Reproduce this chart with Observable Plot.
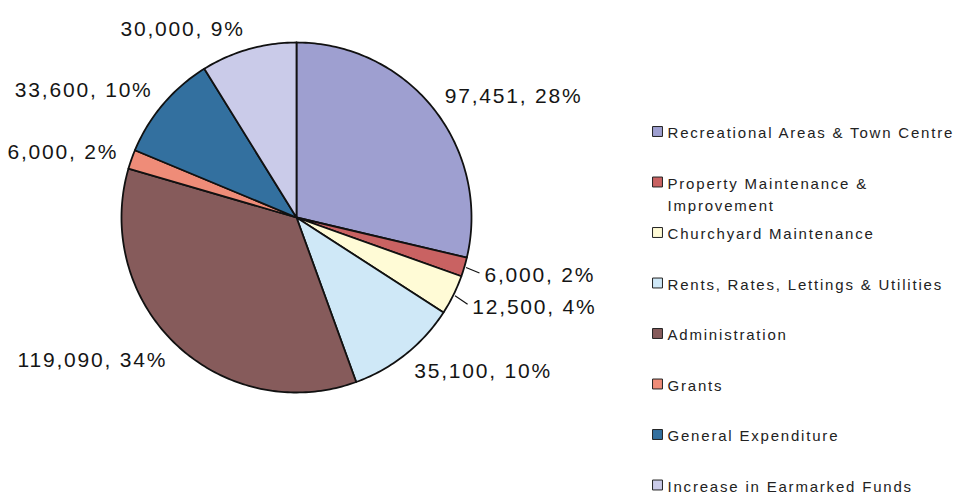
<!DOCTYPE html>
<html><head><meta charset="utf-8">
<script src="https://cdn.jsdelivr.net/npm/d3@7"></script>
<script src="https://cdn.jsdelivr.net/npm/@observablehq/plot@0.6"></script>
<style>
body{margin:0;background:#fff;}
#chart svg{display:block;}
</style>
</head><body><div id="chart"></div>
<script>
// ---- data ----
const categories = [
  "Recreational Areas & Town Centre",
  "Property Maintenance & Improvement",
  "Churchyard Maintenance",
  "Rents, Rates, Lettings & Utilities",
  "Administration",
  "Grants",
  "General Expenditure",
  "Increase in Earmarked Funds"
];
const legendLabels = [
  "Recreational Areas & Town Centre",
  "Property Maintenance &\nImprovement",
  "Churchyard Maintenance",
  "Rents, Rates, Lettings & Utilities",
  "Administration",
  "Grants",
  "General Expenditure",
  "Increase in Earmarked Funds"
];
const values = [97451, 6000, 12500, 35100, 119090, 6000, 33600, 30000];
const valueLabels = ["97,451", "6,000", "12,500", "35,100", "119,090", "6,000", "33,600", "30,000"];
const percentLabels = ["28%", "2%", "4%", "10%", "34%", "2%", "10%", "9%"];
const colors = ["#9e9fd0", "#c96262", "#fffbd6", "#cfe8f7", "#865b5b", "#ef8c78", "#33709f", "#cacbe9"];

// ---- layout ----
const W = 976, H = 496, cx = 296, cy = 217, R = 175;
const ux = px => (px - cx) / R;       // pixel -> unit (x)
const uy = py => (cy - py) / R;       // pixel -> unit (y, up)

const total = d3.sum(values);
let acc = 0;
const slices = categories.map((c, i) => {
  const a0 = acc / total * 2 * Math.PI;
  acc += values[i];
  const a1 = acc / total * 2 * Math.PI;
  return {cat: c, a0, a1, mid: (a0 + a1) / 2, share: values[i] / total, i};
});

// arc polygons
const arcPts = [];
for (const s of slices) {
  arcPts.push({cat: s.cat, x: 0, y: 0});
  const n = Math.max(2, Math.ceil((s.a1 - s.a0) / (Math.PI / 180)));
  for (let k = 0; k <= n; k++) {
    const a = s.a0 + (s.a1 - s.a0) * k / n;
    arcPts.push({cat: s.cat, x: Math.sin(a), y: Math.cos(a)});
  }
  arcPts.push({cat: s.cat, x: 0, y: 0});
}

// labels
const labels = slices.map(s => {
  const small = s.share < 0.05 && Math.sin(s.mid) > 0;
  const r = small ? 1.12 : 1.08;
  return {
    ...s,
    small,
    text: valueLabels[s.i] + ", " + percentLabels[s.i],
    x: r * Math.sin(s.mid),
    y: r * Math.cos(s.mid) + 0.04 * Math.cos(s.mid),
    right: Math.sin(s.mid) > 0
  };
});
const leaders = labels.filter(d => d.small).map(d => ({
  x1: 1.01 * Math.sin(d.mid), y1: 1.01 * Math.cos(d.mid),
  x2: 1.09 * Math.sin(d.mid), y2: 1.09 * Math.cos(d.mid) + 0.03 * Math.cos(d.mid)
}));

// legend rows
const legend = categories.map((c, i) => ({cat: c, label: legendLabels[i], x: ux(657), tx: ux(667), y: uy(131 + i * 50.5)}));

const chart = Plot.plot({
  width: W, height: H, margin: 0,
  x: {domain: [ux(0), ux(W)], range: [0, W], axis: null},
  y: {domain: [uy(H), uy(0)], range: [H, 0], axis: null},
  color: {domain: categories, range: colors, legend: false},
  style: {fontFamily: "'Liberation Sans', Arial, sans-serif", letterSpacing: "1.8px", background: "#fff"},
  marks: [
    Plot.line(arcPts, {x: "x", y: "y", z: "cat", fill: "cat", stroke: "#111", strokeWidth: 1.8, strokeLinejoin: "round", curve: "linear"}),
    Plot.link(leaders, {x1: "x1", y1: "y1", x2: "x2", y2: "y2", stroke: "#111", strokeWidth: 1.2}),
    Plot.text(labels.filter(d => d.right), {x: "x", y: "y", text: "text", textAnchor: "start", fontSize: 21, fill: "#151515"}),
    Plot.text(labels.filter(d => !d.right), {x: "x", y: "y", text: "text", textAnchor: "end", fontSize: 21, fill: "#151515"}),
    Plot.dot(legend, {x: "x", y: "y", fill: "cat", symbol: "square", r: 5.6, stroke: "#222", strokeWidth: 1}),
    Plot.text(legend, {x: "tx", y: "y", text: "label", textAnchor: "start", lineAnchor: "top", dy: -9, lineHeight: 1.47, fontSize: 15, fill: "#222"})
  ]
});
document.getElementById("chart").append(chart);
</script>
</body></html>
